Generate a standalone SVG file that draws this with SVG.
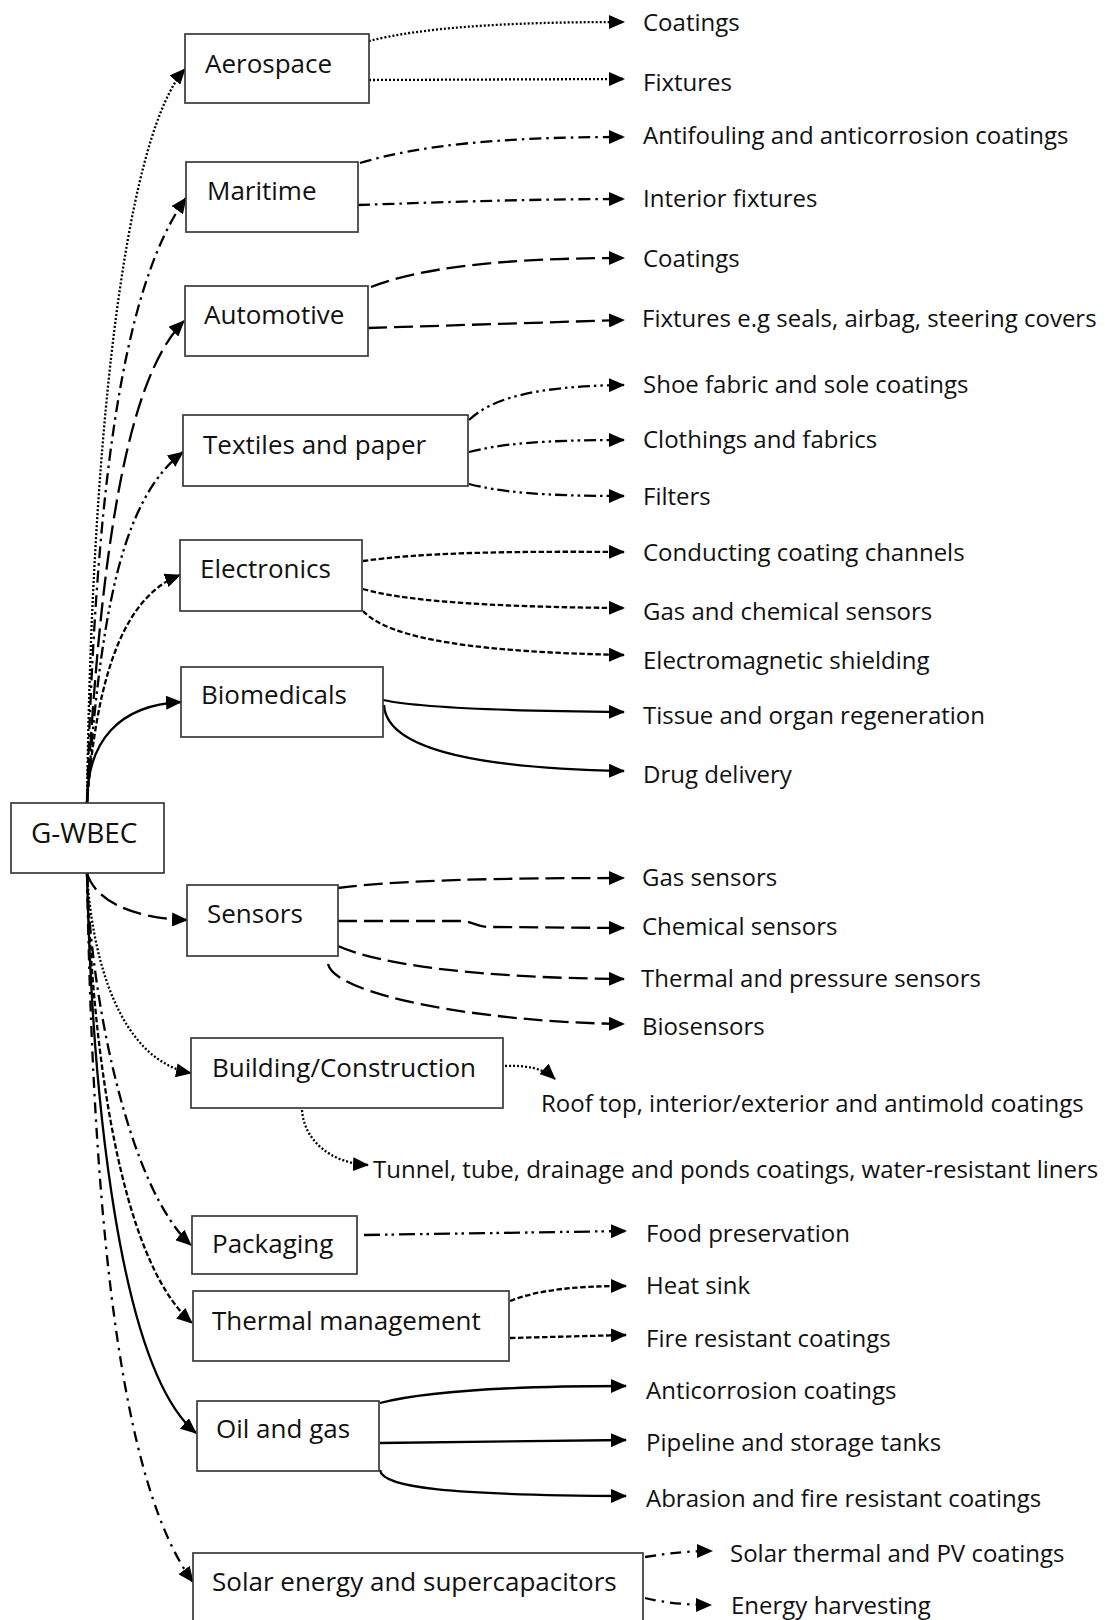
<svg xmlns="http://www.w3.org/2000/svg" width="1105" height="1620" viewBox="0 0 1105 1620">
<style>
.box{fill:#fff;stroke:#3a3a3a;stroke-width:1.7}
.nt{font-family:"Open Sans","Noto Sans","DejaVu Sans",sans-serif;font-size:26px;fill:#111}
.lt{font-family:"Open Sans","Noto Sans","DejaVu Sans",sans-serif;font-size:24px;fill:#111}
.c{fill:none;stroke:#000;stroke-width:2.3;marker-end:url(#ah)}
.dot{stroke-dasharray:2 2}
.dd{stroke-dasharray:12 5 2.5 5}
.ld{stroke-dasharray:19 7}
.ddd{stroke-dasharray:12 4 2.5 4 2.5 4}
.sd{stroke-dasharray:5.5 2.5}
.pd{stroke-dasharray:16 5 2.5 4 2.5 5}
.sdd{stroke-dasharray:11 6 2.5 6}
</style>
<defs>
<marker id="ah" viewBox="0 0 16 14" refX="15" refY="7" markerWidth="16" markerHeight="14" markerUnits="userSpaceOnUse" orient="auto">
<path d="M0,0 L16,7 L0,14 z" fill="#000" stroke="none"/>
</marker>
</defs>
<rect width="1105" height="1620" fill="#fff"/>

<g id="connectors">
<path class="c dot" d="M87,803 C92,400 130,130 185,69"/>
<path class="c dd" d="M87,803 C95,500 120,290 186,198"/>
<path class="c ld" d="M87,803 C100,560 125,380 184,321"/>
<path class="c ddd" d="M87,803 C100,620 120,500 183,452"/>
<path class="c sd" d="M87,803 C95,700 115,600 180,575"/>
<path class="c" d="M87,803 C87,740 120,705 181,702"/>
<path class="c ld" d="M87,873 C95,900 130,918 187,920"/>
<path class="c dot" d="M87,873 C92,960 120,1060 191,1073"/>
<path class="c dd" d="M87,873 C90,1000 130,1190 191,1245"/>
<path class="c sd" d="M87,873 C92,1050 120,1260 192,1323"/>
<path class="c" d="M87,873 C92,1100 120,1370 196,1433"/>
<path class="c sdd" d="M87,873 C92,1150 110,1470 193,1582"/>
<path class="c dot" d="M369,41 C420,28 500,22 624,22"/>
<path class="c dot" d="M369,80 L624,79"/>
<path class="c dd" d="M360,163 C420,145 500,137 624,137"/>
<path class="c dd" d="M358,205 C420,203 520,199 624,199"/>
<path class="c ld" d="M371,287 C420,268 500,258 624,258"/>
<path class="c ld" d="M368,328 L624,320"/>
<path class="c ddd" d="M469,420 C490,400 530,386 624,385"/>
<path class="c ddd" d="M469,452 C500,444 540,440 624,440"/>
<path class="c ddd" d="M469,484 C500,492 540,496 624,496"/>
<path class="c sd" d="M363,561 C420,553 500,551 624,552"/>
<path class="c sd" d="M363,589 C400,600 480,607 624,608"/>
<path class="c sd" d="M363,611 C390,640 480,652 624,655"/>
<path class="c" d="M383,700 C420,708 500,711 624,712"/>
<path class="c" d="M384,705 C386,745 460,768 624,771"/>
<path class="c ld" d="M338,888 C400,880 500,878 624,878"/>
<path class="c ld" d="M338,921 L462,921 C472,921 476,927 490,927 L624,928"/>
<path class="c ld" d="M338,946 C380,965 480,978 624,979"/>
<path class="c ld" d="M328,964 C335,995 480,1022 624,1024"/>
<path class="c dot" d="M505,1066 C525,1065 543,1068 555,1079"/>
<path class="c dot" d="M302,1110 C304,1140 330,1163 368,1165"/>
<path class="c pd" d="M364,1235 L626,1231"/>
<path class="c sd" d="M510,1301 C540,1289 580,1286 626,1286"/>
<path class="c sd" d="M510,1338 L626,1335"/>
<path class="c" d="M380,1403 C430,1390 520,1386 626,1386"/>
<path class="c" d="M380,1443 L626,1440"/>
<path class="c" d="M380,1470 C382,1488 450,1495 626,1496"/>
<path class="c sdd" d="M645,1557 C670,1553 690,1551 712,1551"/>
<path class="c sdd" d="M645,1598 C665,1603 690,1605 711,1605"/>
</g>

<g id="gwbec"><rect class="box" x="11" y="803" width="153" height="70"/><text class="nt" x="31" y="843" style="font-size:28px">G-WBEC</text></g>
<g id="aerospace"><rect class="box" x="185" y="34" width="184" height="69"/><text class="nt" x="205" y="73">Aerospace</text></g>
<g id="maritime"><rect class="box" x="186" y="162" width="172" height="70"/><text class="nt" x="207" y="200">Maritime</text></g>
<g id="automotive"><rect class="box" x="185" y="286" width="183" height="70"/><text class="nt" x="204" y="324">Automotive</text></g>
<g id="textiles"><rect class="box" x="183" y="415" width="285" height="71"/><text class="nt" x="203" y="454">Textiles and paper</text></g>
<g id="electronics"><rect class="box" x="180" y="540" width="182" height="71"/><text class="nt" x="200" y="578">Electronics</text></g>
<g id="biomedicals"><rect class="box" x="181" y="667" width="202" height="70"/><text class="nt" x="201" y="704">Biomedicals</text></g>
<g id="sensors"><rect class="box" x="187" y="885" width="151" height="71"/><text class="nt" x="207" y="923">Sensors</text></g>
<g id="building"><rect class="box" x="191" y="1038" width="312" height="70"/><text class="nt" x="212" y="1077">Building/Construction</text></g>
<g id="packaging"><rect class="box" x="192" y="1216" width="165" height="58"/><text class="nt" x="212" y="1253">Packaging</text></g>
<g id="thermal"><rect class="box" x="193" y="1291" width="316" height="70"/><text class="nt" x="212" y="1330">Thermal management</text></g>
<g id="oilgas"><rect class="box" x="197" y="1401" width="182" height="70"/><text class="nt" x="216" y="1438">Oil and gas</text></g>
<g id="solar"><rect class="box" x="193" y="1553" width="450" height="72"/><text class="nt" x="212" y="1591">Solar energy and supercapacitors</text></g>

<g id="applications">
<text class="lt" x="643" y="31">Coatings</text>
<text class="lt" x="643" y="91">Fixtures</text>
<text class="lt" x="643" y="144">Antifouling and anticorrosion coatings</text>
<text class="lt" x="643" y="207">Interior fixtures</text>
<text class="lt" x="643" y="267">Coatings</text>
<text class="lt" x="642" y="327">Fixtures e.g seals, airbag, steering covers</text>
<text class="lt" x="643" y="393">Shoe fabric and sole coatings</text>
<text class="lt" x="643" y="448">Clothings and fabrics</text>
<text class="lt" x="643" y="505">Filters</text>
<text class="lt" x="643" y="561">Conducting coating channels</text>
<text class="lt" x="643" y="620">Gas and chemical sensors</text>
<text class="lt" x="643" y="669">Electromagnetic shielding</text>
<text class="lt" x="643" y="724">Tissue and organ regeneration</text>
<text class="lt" x="643" y="783">Drug delivery</text>
<text class="lt" x="642" y="886">Gas sensors</text>
<text class="lt" x="642" y="935">Chemical sensors</text>
<text class="lt" x="641" y="987">Thermal and pressure sensors</text>
<text class="lt" x="642" y="1035">Biosensors</text>
<text class="lt" x="541" y="1112">Roof top, interior/exterior and antimold coatings</text>
<text class="lt" x="373" y="1178">Tunnel, tube, drainage and ponds coatings, water-resistant liners</text>
<text class="lt" x="646" y="1242">Food preservation</text>
<text class="lt" x="646" y="1294">Heat sink</text>
<text class="lt" x="646" y="1347">Fire resistant coatings</text>
<text class="lt" x="646" y="1399">Anticorrosion coatings</text>
<text class="lt" x="646" y="1451">Pipeline and storage tanks</text>
<text class="lt" x="646" y="1507">Abrasion and fire resistant coatings</text>
<text class="lt" x="730" y="1562">Solar thermal and PV coatings</text>
<text class="lt" x="731" y="1614">Energy harvesting</text>
</g>
</svg>
